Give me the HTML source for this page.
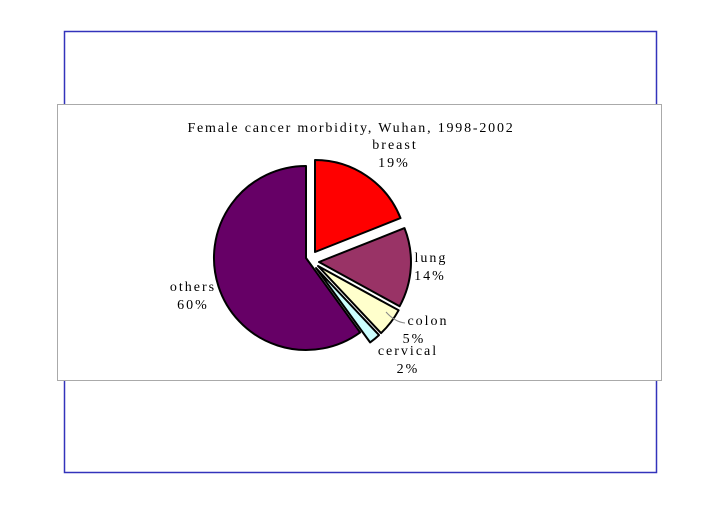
<!DOCTYPE html>
<html><head><meta charset="utf-8"><style>
body{margin:0;background:#fff;width:720px;height:509px;overflow:hidden}
</style></head><body>
<svg width="720" height="509" xmlns="http://www.w3.org/2000/svg" font-family="Liberation Serif, serif">
<rect x="0" y="0" width="720" height="509" fill="#fff"/>
<rect x="64.5" y="31.5" width="592" height="441" fill="none" stroke="#3333bb" stroke-width="1.5"/>
<rect x="57.5" y="104.5" width="604" height="276" fill="#fff" stroke="#aaa" stroke-width="1"/>
<text x="351" y="132" font-size="14" letter-spacing="1.8" text-anchor="middle" fill="#000">Female cancer morbidity, Wuhan, 1998-2002</text>
<g stroke="#000" stroke-width="2" stroke-linejoin="round">
<path d="M306,258 L360.1,332.4 A92,92 0 1 1 306,166 Z" fill="#660066"/>
<path d="M315,252 L315,160 A92,92 0 0 1 400.5,218.1 Z" fill="#ff0000"/>
<path d="M319,262 L404.5,228.1 A92,92 0 0 1 399.6,306.3 Z" fill="#993366"/>
<path d="M318,266 L398.6,310.3 A92,92 0 0 1 381,333.1 Z" fill="#ffffcc"/>
<path d="M316,268 L379,335.1 A92,92 0 0 1 370.1,342.4 Z" fill="#ccffff"/>
</g>
<path d="M386,312 Q395,322 405,323" fill="none" stroke="#888" stroke-width="1"/>
<g font-size="14" letter-spacing="2" fill="#000" text-anchor="middle">
<text x="395" y="149">breast</text><text x="394" y="167">19%</text>
<text x="431" y="262">lung</text><text x="430" y="280">14%</text>
<text x="428" y="325">colon</text><text x="414" y="343">5%</text>
<text x="408" y="355">cervical</text><text x="408" y="373">2%</text>
<text x="193" y="291">others</text><text x="193" y="309">60%</text>
</g>
</svg>
</body></html>
